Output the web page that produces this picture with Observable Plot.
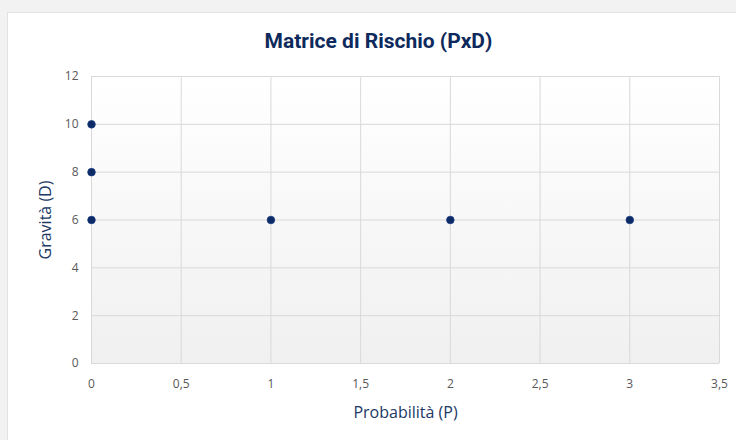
<!DOCTYPE html>
<html>
<head>
<meta charset="utf-8">
<script src="https://cdn.jsdelivr.net/npm/d3@7"></script>
<script src="https://cdn.jsdelivr.net/npm/@observablehq/plot@0.6"></script>
<style>
  html, body { margin: 0; padding: 0; background: #f2f2f2; width: 736px; height: 440px; overflow: hidden; }
  #card { position: absolute; left: 7px; top: 12px; width: 729px; height: 428px; background: #fff; border-top: 1px solid #e2e2e2; border-left: 1px solid #e2e2e2; box-sizing: border-box; }
  #title { position: absolute; left: 0; top: 16px; width: 741px; text-align: center; font-family: Roboto, sans-serif; font-weight: 700; font-size: 21px; color: #0e2a5c; }
  #chart { position: absolute; left: -1px; top: 51px; }
</style>
</head>
<body>
<div id="card">
  <div id="title">Matrice di Rischio (PxD)</div>
  <div id="chart"></div>
</div>
<script>
const probabilita = [0, 0, 0, 1, 2, 3];
const gravita = [6, 8, 10, 6, 6, 6];
const xTicks = [0, 0.5, 1, 1.5, 2, 2.5, 3, 3.5];
const yTicks = [0, 2, 4, 6, 8, 10, 12];

const data = probabilita.map((p, i) => ({p, d: gravita[i]}));
const fmt = d => String(d).replace(".", ",");

const chart = Plot.plot({
  width: 729,
  height: 377,
  marginTop: 12,
  marginLeft: 84,
  marginRight: 17,
  marginBottom: 78,
  style: {fontFamily: "'Open Sans', sans-serif", fontSize: "12px", color: "#595959", background: "transparent"},
  x: {domain: [0, 3.5], ticks: xTicks, tickFormat: fmt, label: null},
  y: {domain: [0, 12], ticks: yTicks, label: null},
  marks: [
    Plot.frame({fill: "url(#bgGrad)", stroke: null}),
    Plot.gridX(xTicks, {stroke: "#d9d9d9", strokeOpacity: 1}),
    Plot.gridY(yTicks, {stroke: "#d9d9d9", strokeOpacity: 1}),
    Plot.axisX(xTicks, {tickSize: 0, tickPadding: 16, tickFormat: fmt, fill: "#595959", fontSize: 12}),
    Plot.axisY(yTicks, {tickSize: 0, tickPadding: 13, fill: "#595959", fontSize: 12}),
    Plot.text(["Probabilità (P)"], {frameAnchor: "bottom", dy: 49, fill: "#203864", fontSize: 16, fontFamily: "'Open Sans', sans-serif", lineAnchor: "middle", textAnchor: "middle"}),
    Plot.text(["Gravità (D)"], {frameAnchor: "left", dx: -46, rotate: -90, fill: "#203864", fontSize: 16, fontFamily: "'Open Sans', sans-serif", textAnchor: "middle"}),
    Plot.dot(data, {x: "p", y: "d", r: 3.8, fill: "#0b2a66", stroke: "#1a3a80", strokeWidth: 0.8})
  ]
});

const svg = d3.select(chart);
const defs = svg.insert("defs", ":first-child");
const g = defs.append("linearGradient").attr("id", "bgGrad").attr("x1", 0).attr("y1", 0).attr("x2", 0).attr("y2", 1);
g.append("stop").attr("offset", "0%").attr("stop-color", "#ffffff");
g.append("stop").attr("offset", "100%").attr("stop-color", "#f0f0f0");

document.getElementById("chart").appendChild(chart);
</script>
</body>
</html>
